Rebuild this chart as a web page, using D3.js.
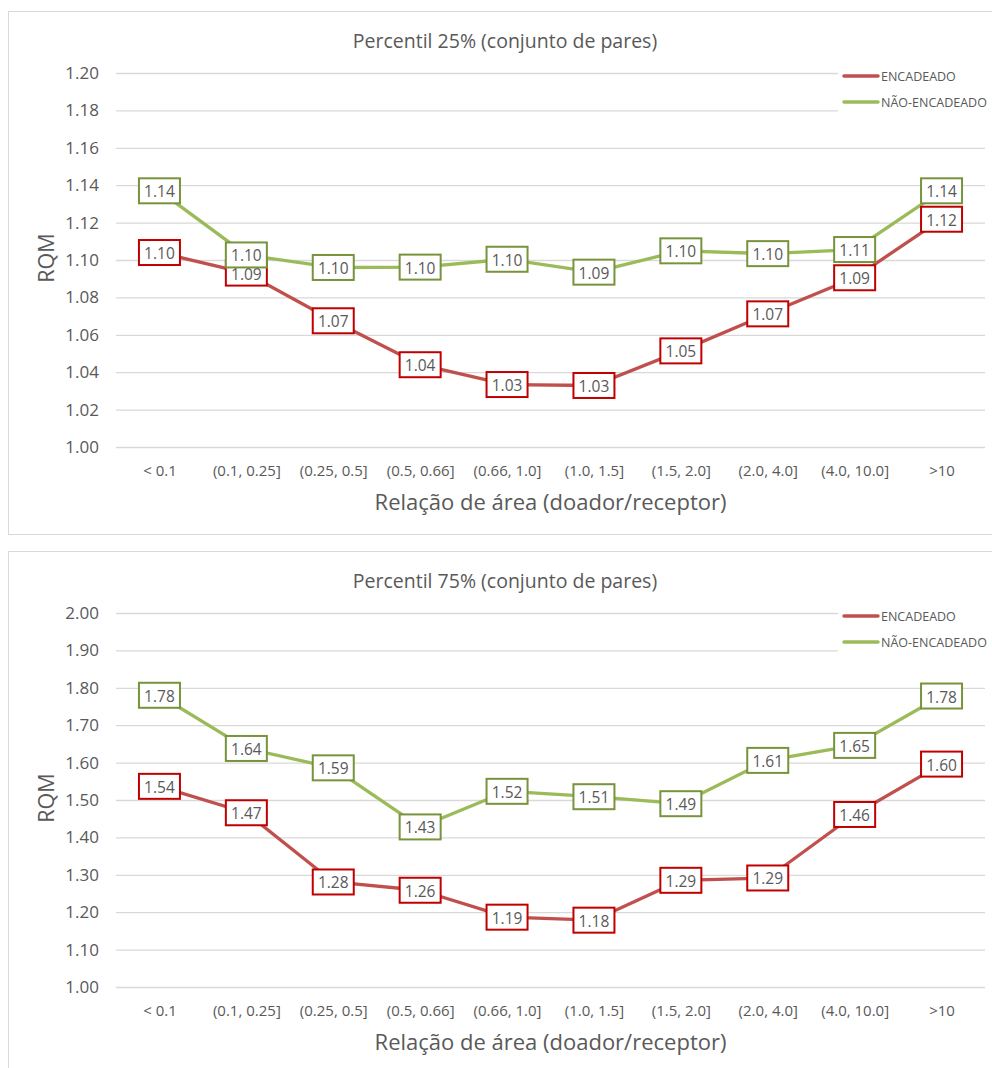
<!DOCTYPE html>
<html>
<head>
<meta charset="utf-8">
<script src="https://cdn.jsdelivr.net/npm/d3@7"></script>
<style>
  html, body { margin: 0; padding: 0; background: #ffffff; }
  svg { display: block; }
  text { font-family: "Open Sans", "Noto Sans", sans-serif; fill: #595959; }
</style>
</head>
<body>
<svg id="chart" width="992" height="1068"></svg>
<script>
// Area-ratio classes (donor / receptor)
const categories = ["< 0.1", "(0.1, 0.25]", "(0.25, 0.5]", "(0.5, 0.66]", "(0.66, 1.0]",
                    "(1.0, 1.5]", "(1.5, 2.0]", "(2.0, 4.0]", "(4.0, 10.0]", ">10"];
const seriesNames = ["ENCADEADO", "NÃO-ENCADEADO"];

// 25th percentile RQM per class
const p25Encadeado    = [1.104, 1.093, 1.0675, 1.044, 1.0334, 1.0329, 1.0514, 1.0712, 1.0905, 1.1218];
const p25NaoEncadeado = [1.137, 1.1027, 1.096, 1.0962, 1.1004, 1.0935, 1.1049, 1.1034, 1.1056, 1.137];

// 75th percentile RQM per class
const p75Encadeado    = [1.5365, 1.4659, 1.2808, 1.2587, 1.1867, 1.1787, 1.2853, 1.2915, 1.4613, 1.596];
const p75NaoEncadeado = [1.78, 1.6378, 1.586, 1.428, 1.5232, 1.5088, 1.4901, 1.6059, 1.646, 1.778];

// Value-axis ticks
const p25Ticks = [1.00, 1.02, 1.04, 1.06, 1.08, 1.10, 1.12, 1.14, 1.16, 1.18, 1.20];
const p75Ticks = [1.00, 1.10, 1.20, 1.30, 1.40, 1.50, 1.60, 1.70, 1.80, 1.90, 2.00];

const titles = ["Percentil 25% (conjunto de pares)", "Percentil 75% (conjunto de pares)"];
const xTitle = "Relação de área (doador/receptor)";
const yTitle = "RQM";

const lineColors  = ["#C0504D", "#9BBB59"];
const labelColors = ["#C00000", "#77933C"];
const fmt = d3.format(".2f");

const svg = d3.select("#chart");

function drawPanel(oy, title, ticks, seriesValues) {
  const g = svg.append("g").attr("transform", `translate(0,${oy})`);

  // chart frame
  g.append("rect")
    .attr("x", 8.5).attr("y", 11.5)
    .attr("width", 994).attr("height", 523)
    .attr("fill", "#ffffff").attr("stroke", "#d9d9d9").attr("stroke-width", 1);

  const left = 116, right = 985, top = 73, bottom = 447;

  const x = d3.scalePoint().domain(categories).range([left, right]).padding(0.5);
  const y = d3.scaleLinear().domain([ticks[0], ticks[ticks.length - 1]]).range([bottom, top]);

  // gridlines + value labels
  const yAxis = g.append("g")
    .attr("transform", `translate(${left},0)`)
    .call(d3.axisLeft(y).tickValues(ticks).tickFormat(fmt)
      .tickSize(-(right - left)).tickPadding(17));
  yAxis.select(".domain").remove();
  yAxis.selectAll(".tick line").attr("stroke", "#d9d9d9").attr("stroke-width", 1.3);
  yAxis.selectAll(".tick text")
    .attr("fill", "#595959").style("font-size", "17px")
    .style("font-family", "'Open Sans', sans-serif");

  // category labels
  const xAxis = g.append("g")
    .attr("transform", `translate(0,${bottom})`)
    .call(d3.axisBottom(x).tickSize(0).tickPadding(18));
  xAxis.select(".domain").remove();
  xAxis.selectAll(".tick text")
    .attr("fill", "#595959").style("font-size", "15px")
    .style("font-family", "'Open Sans', sans-serif");

  // titles
  g.append("text")
    .attr("x", 505).attr("y", 40)
    .attr("text-anchor", "middle").attr("dominant-baseline", "central")
    .style("font-size", "19.5px")
    .text(title);

  g.append("text")
    .attr("x", (left + right) / 2).attr("y", 500.5)
    .attr("text-anchor", "middle").attr("dominant-baseline", "central")
    .style("font-size", "22px")
    .text(xTitle);

  g.append("text")
    .attr("transform", `translate(45,258) rotate(-90)`)
    .attr("text-anchor", "middle").attr("dominant-baseline", "central")
    .style("font-size", "21.5px")
    .text(yTitle);

  // legend (white box over the gridlines)
  const lg = g.append("g");
  lg.append("rect")
    .attr("x", 838).attr("y", 62).attr("width", 147).attr("height", 54)
    .attr("fill", "#ffffff");
  seriesNames.forEach((name, i) => {
    const ly = 76 + i * 26;
    lg.append("line")
      .attr("x1", 844).attr("x2", 878).attr("y1", ly).attr("y2", ly)
      .attr("stroke", lineColors[i]).attr("stroke-width", 3.5)
      .attr("stroke-linecap", "round");
    lg.append("text")
      .attr("x", 881).attr("y", ly + 0.5)
      .attr("dominant-baseline", "central")
      .style("font-size", "12.5px")
      .text(name);
  });

  // series lines
  const line = d3.line()
    .x((d, i) => x(categories[i]))
    .y(d => y(d));
  seriesValues.forEach((vals, s) => {
    g.append("path")
      .datum(vals)
      .attr("d", line)
      .attr("fill", "none")
      .attr("stroke", lineColors[s])
      .attr("stroke-width", 3.3)
      .attr("stroke-linejoin", "round")
      .attr("stroke-linecap", "round");
  });

  // boxed value labels centred on each point
  const bw = 41, bh = 25;
  seriesValues.forEach((vals, s) => {
    const lbl = g.append("g").selectAll("g")
      .data(vals)
      .join("g")
      .attr("transform", (d, i) => `translate(${x(categories[i])},${y(d)})`);
    lbl.append("rect")
      .attr("x", -bw / 2).attr("y", -bh / 2)
      .attr("width", bw).attr("height", bh)
      .attr("fill", "#ffffff")
      .attr("stroke", labelColors[s]).attr("stroke-width", 2);
    lbl.append("text")
      .attr("text-anchor", "middle").attr("dominant-baseline", "central")
      .attr("y", 0.5)
      .style("font-size", "15.5px")
      .text(d => fmt(d));
  });
}

drawPanel(0, titles[0], p25Ticks, [p25Encadeado, p25NaoEncadeado]);
drawPanel(540, titles[1], p75Ticks, [p75Encadeado, p75NaoEncadeado]);
</script>
</body>
</html>
